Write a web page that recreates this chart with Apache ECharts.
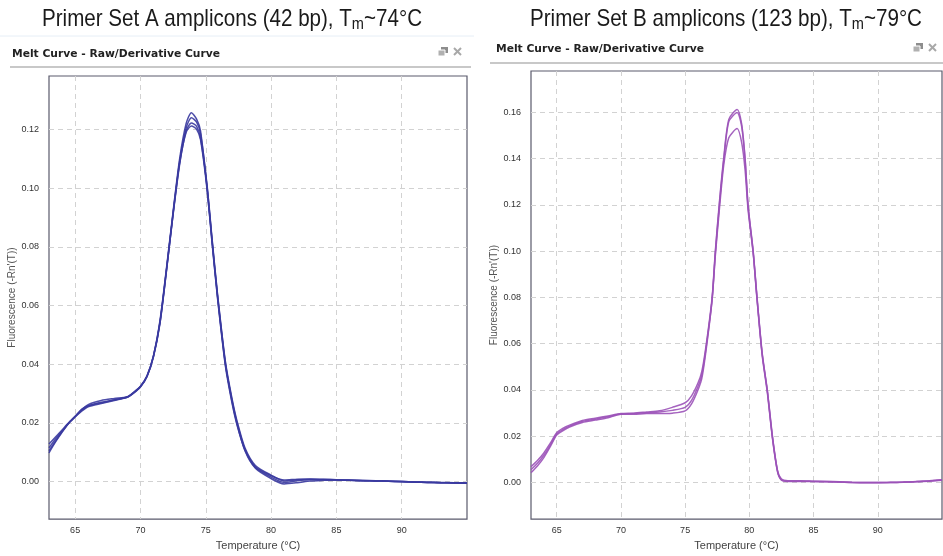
<!DOCTYPE html>
<html><head><meta charset="utf-8">
<script src="https://cdn.jsdelivr.net/npm/echarts@6/dist/echarts.min.js"></script>
<style>html,body{margin:0;padding:0;background:#fff}#c{width:943px;height:556px}</style>
</head><body><div id="c"></div>
<script>
// ---- Panel A (Primer Set A, blue) ----
const tempA = [63,63.5,64,64.5,65,65.5,66,67,68,69,69.5,70,70.5,71,71.5,72,72.5,73,73.5,73.9,74.3,74.6,75.1,75.5,75.9,76.5,77,77.4,78,78.8,80,81,82,83,84,85,86,87,88,89,90,91,92,93,94,95];
const a1 = [0.0098,0.0135,0.0168,0.0198,0.0222,0.0245,0.0262,0.0276,0.0283,0.0289,0.0305,0.0325,0.0360,0.0430,0.0550,0.0730,0.0920,0.1100,0.1220,0.1257,0.1235,0.1195,0.1000,0.0810,0.0630,0.0400,0.0280,0.0200,0.0110,0.0050,0.0020,0.0005,0.0008,0.0009,0.0008,0.0006,0.0005,0.0004,0.0003,0.0002,0.0000,-0.0002,-0.0003,-0.0004,-0.0004,-0.0005];
const a2 = [0.0128,0.0152,0.0176,0.0200,0.0222,0.0246,0.0258,0.0270,0.0279,0.0288,0.0303,0.0323,0.0358,0.0428,0.0545,0.0725,0.0915,0.1090,0.1205,0.1240,0.1225,0.1185,0.1010,0.0820,0.0640,0.0410,0.0285,0.0205,0.0115,0.0055,0.0022,0.0002,0.0006,0.0008,0.0007,0.0006,0.0004,0.0003,0.0002,0.0001,-0.0001,-0.0002,-0.0003,-0.0004,-0.0005,-0.0006];
const a3 = [0.0105,0.0138,0.0170,0.0199,0.0220,0.0240,0.0255,0.0266,0.0276,0.0287,0.0302,0.0322,0.0357,0.0425,0.0540,0.0720,0.0910,0.1080,0.1195,0.1222,0.1210,0.1170,0.1005,0.0815,0.0635,0.0405,0.0275,0.0195,0.0105,0.0045,0.0010,-0.0008,-0.0004,0.0002,0.0004,0.0005,0.0004,0.0003,0.0002,0.0001,0.0000,-0.0002,-0.0003,-0.0004,-0.0005,-0.0005];
const a4 = [0.0115,0.0145,0.0172,0.0199,0.0221,0.0242,0.0257,0.0268,0.0278,0.0288,0.0304,0.0324,0.0359,0.0427,0.0542,0.0722,0.0912,0.1085,0.1190,0.1212,0.1200,0.1165,0.0995,0.0805,0.0625,0.0395,0.0270,0.0192,0.0108,0.0048,0.0015,-0.0003,0.0003,0.0006,0.0006,0.0005,0.0004,0.0003,0.0002,0.0001,0.0000,-0.0001,-0.0002,-0.0003,-0.0004,-0.0005];

// ---- Panel B (Primer Set B, purple) ----
const tempB = [63,63.5,64,64.5,65,65.5,66,67,68,69,70,71,72,73,74,75,75.5,76,76.3,76.65,77.1,77.35,77.65,78,78.4,79.05,79.4,79.67,79.9,80.3,80.6,81,81.4,81.8,82.2,82.5,83,84,85,86,87,88,89,90,91,92,93,94,95];
const b1 = [0.0068,0.0095,0.0128,0.0170,0.0215,0.0235,0.0248,0.0268,0.0278,0.0288,0.0298,0.0300,0.0305,0.0310,0.0325,0.0345,0.0375,0.0430,0.0480,0.0600,0.0800,0.1000,0.1200,0.1400,0.1570,0.1613,0.1550,0.1400,0.1200,0.1000,0.0800,0.0560,0.0400,0.0200,0.0050,0.0015,0.0008,0.0008,0.0006,0.0005,0.0003,0.0001,0.0000,0.0000,0.0000,0.0002,0.0004,0.0008,0.0012];
const b2 = [0.0043,0.0072,0.0108,0.0155,0.0205,0.0225,0.0240,0.0260,0.0270,0.0280,0.0295,0.0295,0.0298,0.0298,0.0300,0.0310,0.0340,0.0400,0.0450,0.0580,0.0790,0.0990,0.1190,0.1390,0.1560,0.1600,0.1540,0.1395,0.1195,0.0995,0.0795,0.0555,0.0395,0.0195,0.0048,0.0012,0.0006,0.0006,0.0005,0.0004,0.0002,0.0000,-0.0001,-0.0001,0.0000,0.0001,0.0003,0.0006,0.0010];
const b3 = [0.0055,0.0083,0.0118,0.0162,0.0210,0.0230,0.0244,0.0264,0.0274,0.0284,0.0296,0.0298,0.0302,0.0305,0.0312,0.0325,0.0355,0.0415,0.0465,0.0590,0.0790,0.0980,0.1170,0.1370,0.1490,0.1530,0.1470,0.1350,0.1180,0.0990,0.0790,0.0550,0.0390,0.0190,0.0045,0.0010,0.0005,0.0005,0.0004,0.0003,0.0002,0.0000,0.0000,0.0000,0.0001,0.0002,0.0004,0.0007,0.0011];

const xTicks = [65,70,75,80,85,90];
const yTicksA = [0,0.02,0.04,0.06,0.08,0.10,0.12];
const yTicksB = [0,0.02,0.04,0.06,0.08,0.10,0.12,0.14,0.16];
const titleA = ['Primer Set A amplicons (42 bp), T','m','~74°C'];
const titleB = ['Primer Set B amplicons (123 bp), T','m','~79°C'];
const panelTitle = 'Melt Curve - Raw/Derivative Curve';
const xName = 'Temperature (°C)';
const yName = "Fluorescence (-Rn'(T))";

const colorA = '#3a3aa0';
const colorB = '#9b52b8';

const TFONT = '"Liberation Sans", Arial, sans-serif';
const HFONT = '"DejaVu Sans", Verdana, sans-serif';
const BIG = 24, SUB = 17;

const mctx = document.createElement('canvas').getContext('2d');
function textW(str, font){ mctx.font = font; return mctx.measureText(str).width; }

function pairs(t, v){ return t.map((x,i)=>[x, v[i]]); }

function xAxisCfg(idx){
  return {
    gridIndex: idx, type:'value', min:63, max:95,
    name: xName, nameLocation:'middle', nameGap:16,
    nameTextStyle:{fontFamily:'Liberation Sans', fontSize:11, color:'#444'},
    axisLine:{show:false, onZero:false},
    axisTick:{show:false, customValues: xTicks},
    axisLabel:{customValues: xTicks, fontFamily:'Liberation Sans', fontSize:9, color:'#333', margin:7},
    splitLine:{show:true, lineStyle:{type:[5,4], color:'#d2d2d2', width:1}}
  };
}
function yAxisCfg(idx, min, max, ticks){
  return {
    gridIndex: idx, type:'value', min:min, max:max,
    name: yName, nameLocation:'middle', nameGap:27,
    nameTextStyle:{fontFamily:'Liberation Sans', fontSize:10, color:'#555'},
    axisLine:{show:false},
    axisTick:{show:false, customValues: ticks},
    axisLabel:{customValues: ticks, formatter:(v)=>Math.abs(v).toFixed(2), fontFamily:'Liberation Sans', fontSize:9, color:'#333', margin:10},
    splitLine:{show:true, lineStyle:{type:[5,4], color:'#d2d2d2', width:1}}
  };
}
function lineSeries(xi, data, color){
  return {type:'line', xAxisIndex:xi, yAxisIndex:xi, data:data, showSymbol:false, smooth:0.25,
    lineStyle:{color:color, width:1.5, opacity:0.9}, emphasis:{disabled:true}, silent:true, z:3};
}

function titleText(x, y, parts, target){
  const w = textW(parts[0], BIG+'px '+TFONT) + textW(parts[1], SUB+'px '+TFONT) + textW(parts[2], BIG+'px '+TFONT);
  const s = target / w;
  return {type:'text', x:x, y:y, scaleX:s, style:{
    text:'{a|'+parts[0]+'}{b|'+parts[1]+'}{a|'+parts[2]+'}',
    align:'center', verticalAlign:'middle',
    rich:{
      a:{fontFamily:TFONT, fontSize:BIG, fill:'#1a1a1a', lineHeight:28, verticalAlign:'middle'},
      b:{fontFamily:TFONT, fontSize:SUB, fill:'#1a1a1a', lineHeight:28, verticalAlign:'bottom'}
    }}};
}
function headerText(x, y, target){
  const font = 'bold 11px '+HFONT;
  const s = target / textW(panelTitle, font);
  return {type:'text', x:x, y:y, scaleX:s, style:{text:panelTitle, font:font, fill:'#222', verticalAlign:'middle'}};
}
function icons(x, y){
  return [
    {type:'rect', shape:{x:x+2, y:y-5, width:7, height:6}, style:{fill:'#8d8d8d'}},
    {type:'rect', shape:{x:x-1, y:y-2, width:7, height:6}, style:{fill:'#b0b0b0', stroke:'#fff', lineWidth:1}},
    {type:'line', shape:{x1:x+15, y1:y-4, x2:x+22, y2:y+3}, style:{stroke:'#a8a8a8', lineWidth:2}},
    {type:'line', shape:{x1:x+22, y1:y-4, x2:x+15, y2:y+3}, style:{stroke:'#a8a8a8', lineWidth:2}}
  ];
}

const chart = echarts.init(document.getElementById('c'), null, {renderer:'canvas'});
chart.setOption({
  animation:false,
  backgroundColor:'#fff',
  grid:[
    {left:49, top:76, width:418, height:448, show:true, borderColor:'#5a5a6c', borderWidth:1.2, containLabel:false},
    {left:531, top:71, width:411, height:454, show:true, borderColor:'#5a5a6c', borderWidth:1.2, containLabel:false}
  ],
  xAxis:[xAxisCfg(0), xAxisCfg(1)],
  yAxis:[yAxisCfg(0, -0.0128, 0.1382, yTicksA), yAxisCfg(1, -0.0158, 0.1779, yTicksB)],
  series:[
    lineSeries(0, pairs(tempA, a1), colorA),
    lineSeries(0, pairs(tempA, a2), colorA),
    lineSeries(0, pairs(tempA, a3), colorA),
    lineSeries(0, pairs(tempA, a4), colorA),
    lineSeries(1, pairs(tempB, b1), colorB),
    lineSeries(1, pairs(tempB, b2), colorB),
    lineSeries(1, pairs(tempB, b3), colorB)
  ],
  graphic:[
    titleText(232, 19, titleA, 380),
    titleText(726, 19, titleB, 392),
    {type:'line', shape:{x1:0, y1:36, x2:474, y2:36}, style:{stroke:'#e6eef6', lineWidth:1}},
    headerText(12, 54, 208),
    headerText(496, 49, 208),
    {type:'line', shape:{x1:10, y1:67, x2:471, y2:67}, style:{stroke:'#c8c8c8', lineWidth:2}},
    {type:'line', shape:{x1:490, y1:63, x2:943, y2:63}, style:{stroke:'#c8c8c8', lineWidth:2}},
    ...icons(439, 52),
    ...icons(914, 48)
  ]
});
</script></body></html>
